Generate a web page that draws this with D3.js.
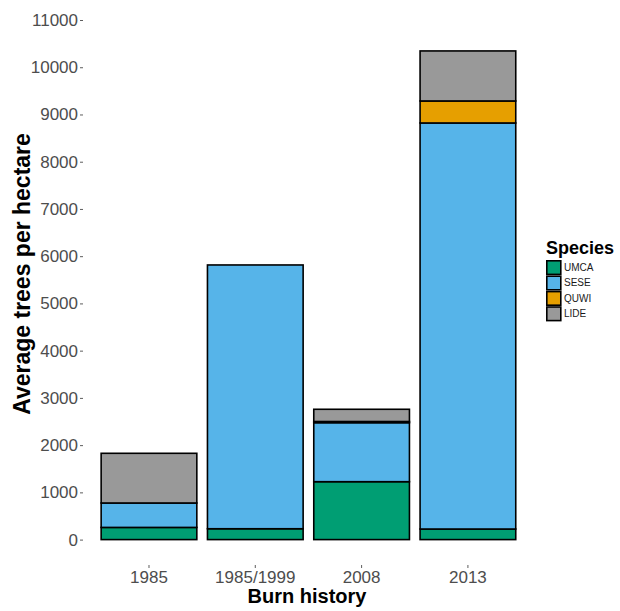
<!DOCTYPE html>
<html>
<head>
<meta charset="utf-8">
<script src="https://cdn.jsdelivr.net/npm/d3@7/dist/d3.min.js"></script>
<style>
  html, body { margin: 0; padding: 0; background: #fff; }
  svg { display: block; font-family: "Liberation Sans", Arial, sans-serif; }
</style>
</head>
<body>
<svg id="chart" width="620" height="611"></svg>
<script>
// Burn history categories and average trees per hectare per species
const categories = ["1985", "1985/1999", "2008", "2013"];
const species = ["UMCA", "SESE", "QUWI", "LIDE"];
const UMCA = [258, 230, 1226, 224];
const SESE = [517, 5584, 1249, 8596];
const QUWI = [0, 0, 25, 466];
const LIDE = [1052, 0, 259, 1059];
const yTicks = [0, 1000, 2000, 3000, 4000, 5000, 6000, 7000, 8000, 9000, 10000, 11000];

const colors = { UMCA: "#009E73", SESE: "#56B4E9", QUWI: "#E69F00", LIDE: "#999999" };
const seriesValues = { UMCA, SESE, QUWI, LIDE };

const rows = categories.map((c, i) => {
  const r = { burn: c };
  species.forEach(s => { r[s] = seriesValues[s][i]; });
  return r;
});

const svg = d3.select("#chart");
const plot = { left: 85.2, right: 531.7, bottom: 565 };

const x = d3.scaleBand()
  .domain(categories)
  .range([plot.left, plot.right])
  .paddingInner(0.1)
  .paddingOuter(0.15);

const y = d3.scaleLinear().domain([0, 11000]).range([539.6, 20]);

const stacked = d3.stack().keys(species)(rows);

// stacked bars
const layers = svg.append("g").selectAll("g")
  .data(stacked)
  .join("g")
  .attr("fill", d => colors[d.key]);

layers.selectAll("rect")
  .data(d => d.filter(p => p[1] - p[0] > 0))
  .join("rect")
  .attr("x", d => x(d.data.burn))
  .attr("width", x.bandwidth())
  .attr("y", d => y(d[1]))
  .attr("height", d => y(d[0]) - y(d[1]))
  .attr("stroke", "#000")
  .attr("stroke-width", 1.6);

// y axis
const yAxis = d3.axisLeft(y).tickValues(yTicks).tickSize(3).tickPadding(2).tickFormat(d3.format("d"));
const gy = svg.append("g").attr("transform", `translate(83,0)`).call(yAxis);
gy.select(".domain").remove();
gy.selectAll(".tick line").attr("stroke", "#333").attr("stroke-width", 0.8);
gy.selectAll(".tick text")
  .attr("fill", "#4D4D4D")
  .style("font-size", "17px")
  .style("font-family", "'Liberation Sans', Arial, sans-serif");

// x axis
const xAxis = d3.axisBottom(x).tickSize(3).tickPadding(3);
const gx = svg.append("g").attr("transform", `translate(0,${plot.bottom})`).call(xAxis);
gx.select(".domain").remove();
gx.selectAll(".tick line").attr("stroke", "#333").attr("stroke-width", 0.8);
gx.selectAll(".tick text")
  .attr("fill", "#4D4D4D")
  .style("font-size", "17px")
  .style("font-family", "'Liberation Sans', Arial, sans-serif");

// axis titles
svg.append("text")
  .attr("x", 307)
  .attr("y", 603)
  .attr("text-anchor", "middle")
  .style("font-size", "20px")
  .style("font-weight", "bold")
  .text("Burn history");

svg.append("text")
  .attr("transform", "translate(30,274) rotate(-90)")
  .attr("text-anchor", "middle")
  .style("font-size", "23px")
  .style("font-weight", "bold")
  .text("Average trees per hectare");

// legend
const legend = svg.append("g").attr("transform", "translate(546,0)");
legend.append("text")
  .attr("x", 0)
  .attr("y", 254)
  .style("font-size", "18px")
  .style("font-weight", "bold")
  .text("Species");

const items = legend.selectAll("g.item")
  .data(species)
  .join("g")
  .attr("class", "item")
  .attr("transform", (d, i) => `translate(0,${260 + i * 15.4})`);

items.append("rect")
  .attr("x", 0.8)
  .attr("y", 0.8)
  .attr("width", 14)
  .attr("height", 13.6)
  .attr("fill", d => colors[d])
  .attr("stroke", "#000")
  .attr("stroke-width", 1.6);

items.append("text")
  .attr("x", 18)
  .attr("y", 11)
  .attr("fill", "#1A1A1A")
  .style("font-size", "10px")
  .text(d => d);
</script>
</body>
</html>
